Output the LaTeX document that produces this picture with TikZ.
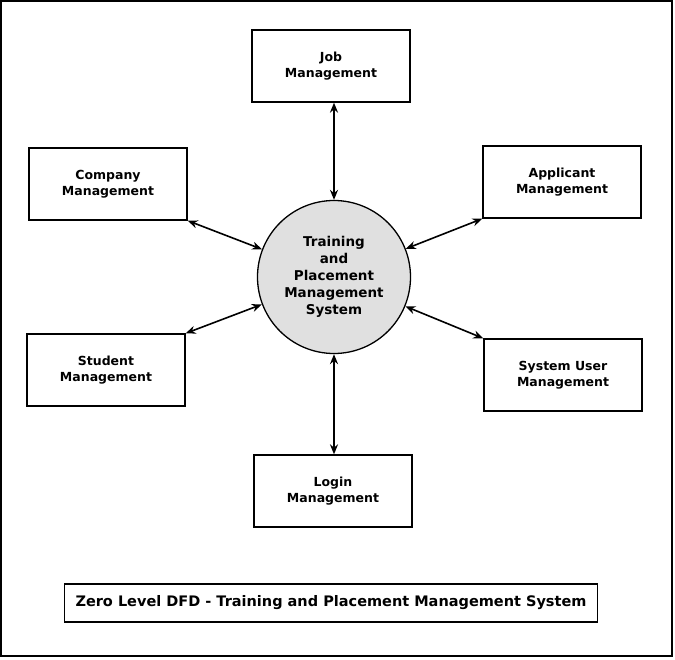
\documentclass[tikz,border=0pt]{standalone}
\usepackage{fontspec}
\setmainfont{DejaVu Sans}
\usetikzlibrary{arrows.meta}
\begin{document}
\begin{tikzpicture}[x=1pt,y=-1pt,
  box/.style={draw,line width=1.3pt,minimum width=158pt,minimum height=72pt,align=center,font=\bfseries\fontsize{12.5}{15.5}\selectfont},
  flow/.style={{Stealth[length=10pt,width=8pt]}-{Stealth[length=10pt,width=8pt]},line width=1.6pt}]
\useasboundingbox (0,0) rectangle (675,659);
\draw[line width=1.3pt] (1,1) rectangle (672,656);
\node[circle,draw,line width=1.3pt,fill=black!12,minimum size=153pt,inner sep=0pt,align=center,font=\bfseries\fontsize{13.5}{17}\selectfont] (c) at (334,277) {Training\\and\\Placement\\Management\\System};
\node[box] (job) at (331,66) {Job\\Management};
\node[box] (comp) at (108,184) {Company\\Management};
\node[box] (app) at (562,182) {Applicant\\Management};
\node[box] (stu) at (106,370) {Student\\Management};
\node[box] (sys) at (563,375) {System User\\Management};
\node[box] (log) at (333,491) {Login\\Management};
\node[draw,line width=1.3pt,minimum width=533pt,minimum height=38pt,font=\bfseries\fontsize{14.5}{17}\selectfont] (t) at (331,603) {Zero Level DFD - Training and Placement Management System};
\coordinate (jb) at (job.south -| c);
\coordinate (lt) at (log.north -| c);
\draw[flow] (jb) -- (c);
\draw[flow] (comp.south east) -- (c);
\draw[flow] (app.south west) -- (c);
\draw[flow] (stu.north east) -- (c);
\draw[flow] (sys.north west) -- (c);
\draw[flow] (lt) -- (c);
\end{tikzpicture}
\end{document}
